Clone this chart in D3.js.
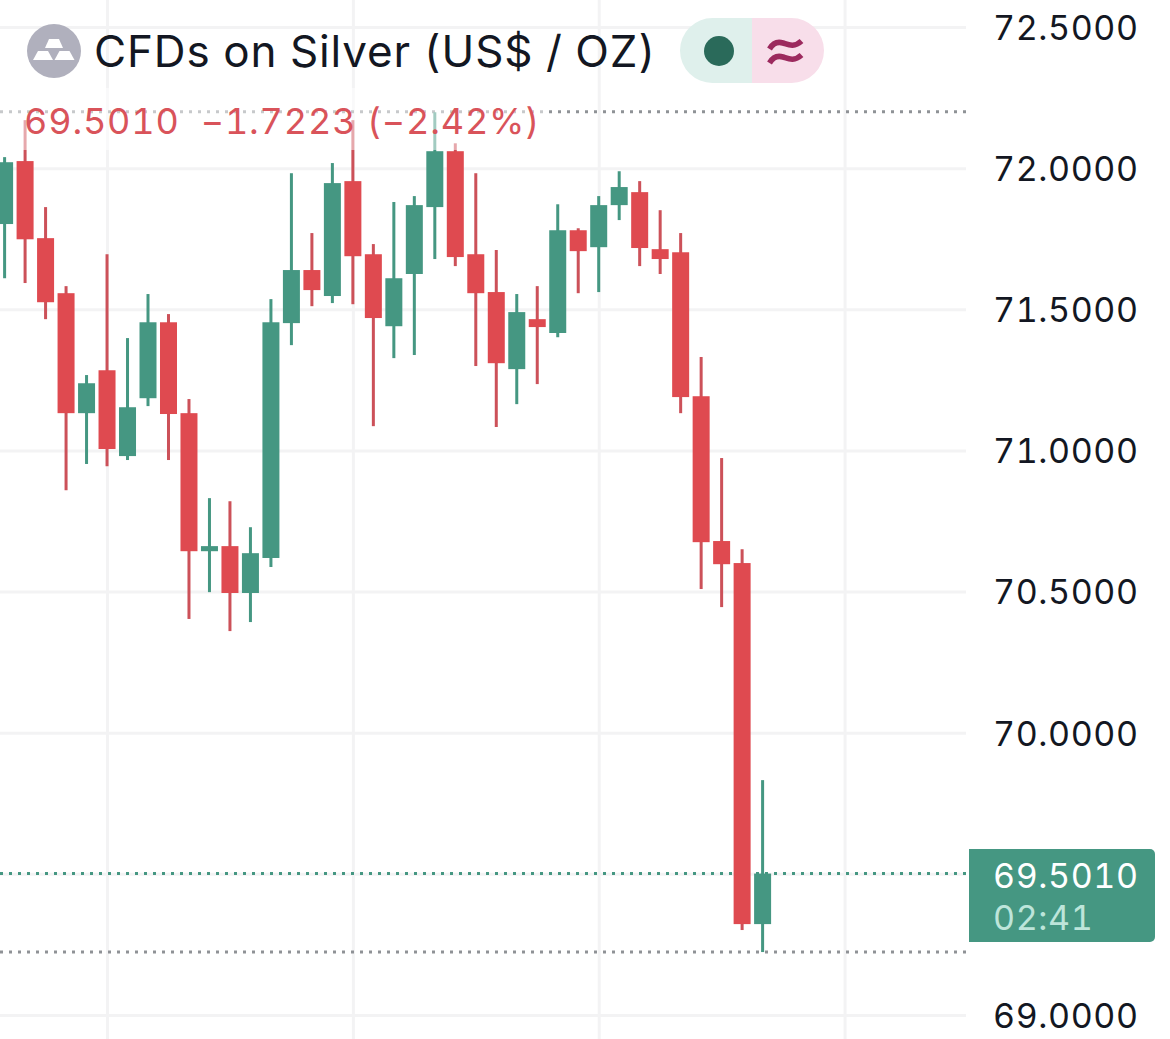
<!DOCTYPE html>
<html><head><meta charset="utf-8">
<script src="https://cdn.jsdelivr.net/npm/d3@7"></script>
<style>
html,body{margin:0;padding:0;background:#fff;overflow:hidden}
svg{display:block}
text{font-family:Inter,"Noto Sans",sans-serif;font-variant-numeric:tabular-nums}
</style></head><body>
<svg id="c" width="1170" height="1039"></svg>
<script>
const opens  = [71.802,72.025,71.752,71.557,71.132,71.284,70.980,71.185,71.454,71.132,70.643,70.661,70.495,70.619,71.451,71.639,71.547,71.954,71.695,71.440,71.625,71.862,72.060,71.695,71.561,71.288,71.465,71.416,71.780,71.720,71.869,71.915,71.713,71.702,71.192,70.679,70.601,69.322];
const highs  = [72.039,72.170,71.862,71.582,71.267,71.695,71.398,71.554,71.483,71.182,70.831,70.820,70.728,71.536,71.982,71.770,72.018,72.170,71.731,71.880,71.901,72.198,72.088,71.982,71.710,71.554,71.582,71.872,71.787,71.901,71.989,71.954,71.851,71.770,71.331,70.973,70.650,69.832];
const lows   = [71.610,71.593,71.465,70.859,70.952,70.944,70.966,71.157,70.966,70.403,70.498,70.360,70.392,70.587,71.373,71.511,71.522,71.518,71.086,71.327,71.338,71.678,71.653,71.299,71.083,71.164,71.235,71.401,71.557,71.561,71.816,71.653,71.625,71.132,70.509,70.445,69.301,69.223];
const closes = [72.021,71.748,71.525,71.132,71.238,71.005,71.153,71.454,71.129,70.643,70.661,70.495,70.636,71.454,71.639,71.568,71.947,71.688,71.469,71.610,71.869,72.060,71.685,71.557,71.309,71.490,71.437,71.780,71.706,71.869,71.933,71.717,71.678,71.189,70.675,70.597,69.322,69.501];
const priceTicks = [69,69.5,70,70.5,71,71.5,72,72.5];
const labelTicks = [69,70,70.5,71,71.5,72,72.5];
const timeGridIndex = [5,17,29,41];
const visibleHigh = 72.2, visibleLow = 69.223, lastPrice = 69.501;
const titleText = "CFDs on Silver (US$ / OZ)";
const changeText = "69.5010  \u22121.7223 (\u22122.42%)";
const lastLabel = "69.5010", countdown = "02:41";

const GREEN="#459782", RED="#df4a50", REDWICK="#cc5159", GRID="#f3f3f4";
const svg=d3.select("#c");
const x=d3.scaleLinear().domain([0,37]).range([4.6,762.6]);
const y=d3.scaleLinear().domain([69,72.5]).range([1015,27]);

const gy=svg.append("g").call(d3.axisLeft(y).tickValues(priceTicks).tickSize(-966).tickFormat(""));
gy.select(".domain").remove();
gy.selectAll("line").attr("stroke",GRID).attr("stroke-width",3);
const gx=svg.append("g").call(d3.axisBottom(x).tickValues(timeGridIndex).tickSize(1039).tickFormat(""));
gx.select(".domain").remove();
gx.selectAll("line").attr("stroke",GRID).attr("stroke-width",3);

[[visibleHigh,"#8f9296"],[visibleLow,"#8f9296"],[lastPrice,GREEN]].forEach(([v,c])=>{
  svg.append("line").attr("x1",0).attr("x2",966).attr("y1",y(v)).attr("y2",y(v))
    .attr("stroke",c).attr("stroke-width",3).attr("stroke-dasharray","3 6");
});

const data=d3.range(opens.length);
const up=i=>closes[i]>=opens[i];
svg.append("g").selectAll("rect").data(data).join("rect")
  .attr("x",i=>x(i)-1.5).attr("width",3)
  .attr("y",i=>y(highs[i])).attr("height",i=>y(lows[i])-y(highs[i]))
  .attr("fill",i=>up(i)?GREEN:REDWICK);
svg.append("g").selectAll("rect").data(data).join("rect")
  .attr("x",i=>x(i)-8.5).attr("width",17)
  .attr("y",i=>y(Math.max(opens[i],closes[i])))
  .attr("height",i=>Math.max(1,Math.abs(y(opens[i])-y(closes[i]))))
  .attr("fill",i=>up(i)?GREEN:RED);

svg.append("rect").attr("x",0).attr("y",88).attr("width",544).attr("height",62).attr("fill","#fff").attr("opacity",0.5);

svg.append("circle").attr("cx",54).attr("cy",51).attr("r",27).attr("fill","#b0b0bd");
[[54,39,10,18,9],[43,51,10,20,9],[64.5,51,10,20,9]].forEach(([cx,t,tw,bw,h])=>{
  svg.append("path").attr("fill","#fff")
   .attr("d",d3.line()([[cx-tw/2,t],[cx+tw/2,t],[cx+bw/2,t+h],[cx-bw/2,t+h]])+"Z");
});

svg.append("text").text(titleText).attr("x",94).attr("y",67).attr("font-size",44).attr("fill","#131722").attr("letter-spacing",0.85);
svg.append("text").text(changeText).attr("x",24).attr("y",134).attr("font-size",36).attr("letter-spacing",0.85).attr("fill","#d9535a").style("white-space","pre");

svg.append("path").attr("fill","#dff0ec").attr("d","M752 18H712.5a32.5 32.5 0 0 0 0 65H752Z");
svg.append("path").attr("fill","#f8deea").attr("d","M752 18H791.5a32.5 32.5 0 0 1 0 65H752Z");
svg.append("circle").attr("cx",719).attr("cy",51).attr("r",15).attr("fill","#2a6a5a");
[0,14].forEach(dy=>{
  svg.append("path").attr("fill","none").attr("stroke","#9c2a5e").attr("stroke-width",5.5)
    .attr("transform",`translate(0,${dy})`)
    .attr("d","M769.5 49C773 43 778 41.5 783 43S794 48 801.5 41");
});

const ga=svg.append("g").attr("transform","translate(993,1.5)").call(d3.axisRight(y).tickValues(labelTicks).tickSize(0).tickPadding(0).tickFormat(d3.format(".4f")));
ga.select(".domain").remove();
ga.selectAll("text").attr("font-size",34).attr("fill","#131722").attr("letter-spacing",0.6);

svg.append("path").attr("fill",GREEN).attr("d","M969 849H1150a5 5 0 0 1 5 5V937a5 5 0 0 1 -5 5H969Z");
svg.append("text").text(lastLabel).attr("x",993).attr("y",888).attr("font-size",34).attr("letter-spacing",0.6).attr("fill","#fff");
svg.append("text").text(countdown).attr("x",993).attr("y",930).attr("font-size",34).attr("letter-spacing",0.6).attr("fill","#bde5da");
</script>
</body></html>
